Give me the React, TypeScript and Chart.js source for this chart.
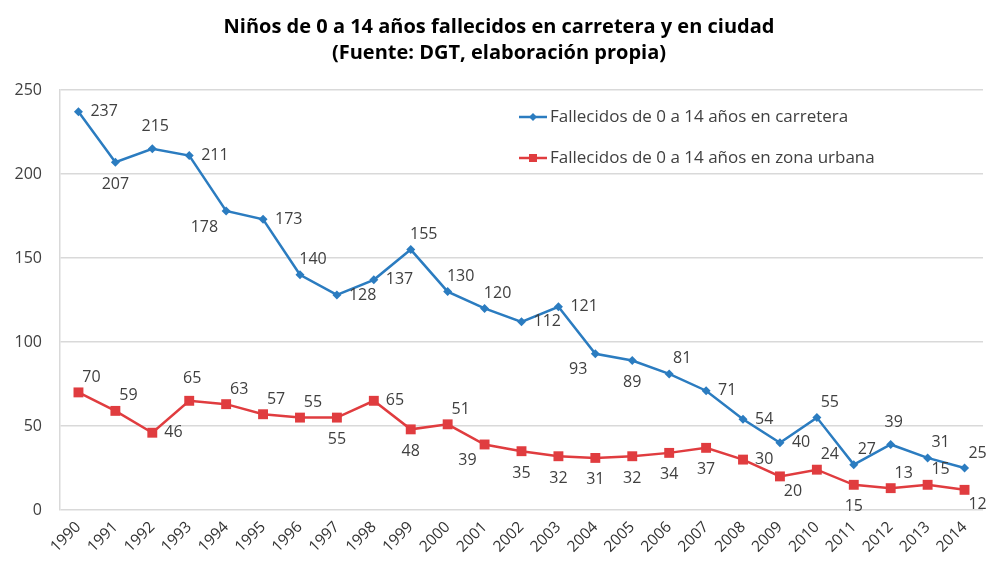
import React, { useEffect, useRef } from "react";
import { Chart, registerables } from "chart.js";

Chart.register(...registerables);

const years = ["1990","1991","1992","1993","1994","1995","1996","1997","1998","1999","2000","2001","2002","2003","2004","2005","2006","2007","2008","2009","2010","2011","2012","2013","2014"];
const carretera = [237,207,215,211,178,173,140,128,137,155,130,120,112,121,93,89,81,71,54,40,55,27,39,31,25];
const urbana = [70,59,46,65,63,57,55,55,65,48,51,39,35,32,31,32,34,37,30,20,24,15,13,15,12];
const carreteraLabelPos = ["r","b","a","r","bl","r","ar","r","r","ar","ar","ar","r","r","bl","b","ar","r","r","r","ar","ar","a","ar","ar"];
const urbanaLabelPos = ["ar","ar","r","a","ar","ar","ar","b","r","b","ar","bl","b","b","b","b","b","b","r","br","ar","b","ar","ar","br"];
const titleLines = ["Niños de 0 a 14 años fallecidos en carretera y en ciudad", "(Fuente: DGT, elaboración propia)"];
const seriesNames = ["Fallecidos de 0 a 14 años en carretera", "Fallecidos de 0 a 14 años en zona urbana"];
const yTicks = [0, 50, 100, 150, 200, 250];

const BLUE = "#2b7cc0";
const RED = "#e03c3f";
const FONT = "'Open Sans', 'DejaVu Sans', sans-serif";

const overlayPlugin = {
  id: "overlay",
  afterDatasetsDraw(chart: any) {
    const ctx = chart.ctx;
    ctx.save();
    // data labels
    ctx.font = `16px ${FONT}`;
    ctx.fillStyle = "#404040";
    const posSets = [carreteraLabelPos, urbanaLabelPos];
    chart.data.datasets.forEach((ds: any, di: number) => {
      const meta = chart.getDatasetMeta(di);
      meta.data.forEach((pt: any, i: number) => {
        const code = posSets[di][i];
        const txt = String(ds.data[i]);
        let x = pt.x, y = pt.y, align: CanvasTextAlign = "center";
        if (code === "r") { x += 12; align = "left"; }
        else if (code === "ar") { x += 13; y -= 15; }
        else if (code === "a") { x += 3; y -= 22; }
        else if (code === "b") { y += 22; }
        else if (code === "bl") { x -= 8; y += 16; align = "right"; }
        else if (code === "br") { x += 13; y += 15; }
        ctx.textAlign = align;
        ctx.textBaseline = "middle";
        ctx.fillText(txt, x, y);
      });
    });
    // legend
    const legendYs = [117, 158];
    chart.data.datasets.forEach((ds: any, di: number) => {
      const y = legendYs[di];
      ctx.strokeStyle = ds.borderColor;
      ctx.lineWidth = 2.5;
      ctx.beginPath();
      ctx.moveTo(519, y);
      ctx.lineTo(547, y);
      ctx.stroke();
      ctx.fillStyle = ds.backgroundColor;
      ctx.beginPath();
      if (di === 0) {
        ctx.moveTo(533, y - 4); ctx.lineTo(537, y); ctx.lineTo(533, y + 4); ctx.lineTo(529, y);
        ctx.closePath();
      } else {
        ctx.rect(529, y - 4, 8, 8);
      }
      ctx.fill();
      ctx.fillStyle = "#404040";
      ctx.font = `17px ${FONT}`;
      ctx.textAlign = "left";
      ctx.textBaseline = "middle";
      ctx.fillText(ds.label, 550, y);
    });
    // title
    ctx.fillStyle = "#000";
    ctx.font = `bold 20px ${FONT}`;
    ctx.textAlign = "center";
    ctx.textBaseline = "middle";
    ctx.fillText(titleLines[0], 499, 27);
    ctx.fillText(titleLines[1], 499, 53);
    ctx.restore();
  },
};

export default function App() {
  const ref = useRef<HTMLCanvasElement | null>(null);
  useEffect(() => {
    if (!ref.current) return;
    const chart = new Chart(ref.current, {
      type: "line",
      data: {
        labels: years,
        datasets: [
          {
            label: seriesNames[0],
            data: carretera,
            borderColor: BLUE,
            backgroundColor: BLUE,
            borderWidth: 2.5,
            pointStyle: "rectRot",
            pointRadius: 4.5,
            pointBorderWidth: 0,
            tension: 0,
          },
          {
            label: seriesNames[1],
            data: urbana,
            borderColor: RED,
            backgroundColor: RED,
            borderWidth: 2.5,
            pointStyle: "rect",
            pointRadius: 7,
            pointBorderWidth: 0,
            tension: 0,
          },
        ],
      },
      options: {
        responsive: false,
        animation: false,
        devicePixelRatio: 1,
        layout: { padding: { top: 90, left: 0, right: 0, bottom: 0 } },
        plugins: {
          legend: { display: false },
          title: { display: false },
          tooltip: { enabled: false },
        },
        scales: {
          x: {
            offset: true,
            grid: { display: false, drawTicks: false },
            border: { display: false },
            ticks: {
              minRotation: 45,
              maxRotation: 45,
              autoSkip: false,
              padding: 8,
              color: "#333333",
              font: { family: FONT, size: 15.5 },
            },
            afterFit: (s: any) => { s.height = 53; },
          },
          y: {
            min: 0,
            max: 250,
            afterBuildTicks: (s: any) => { s.ticks = yTicks.map((v) => ({ value: v })); },
            grid: { color: "#d9d9d9", lineWidth: 1.5, drawTicks: false },
            border: { display: true, color: "#d9d9d9", width: 1.5 },
            ticks: {
              padding: 18,
              color: "#404040",
              font: { family: FONT, size: 16 },
            },
            afterFit: (s: any) => { s.width = 60; },
          },
        },
      },
      plugins: [overlayPlugin],
    });
    return () => chart.destroy();
  }, []);
  return (
    <div style={{ position: "absolute", left: 0, top: 0, width: 990, height: 563, background: "#fff" }}>
      <canvas ref={ref} width={990} height={563} />
    </div>
  );
}
